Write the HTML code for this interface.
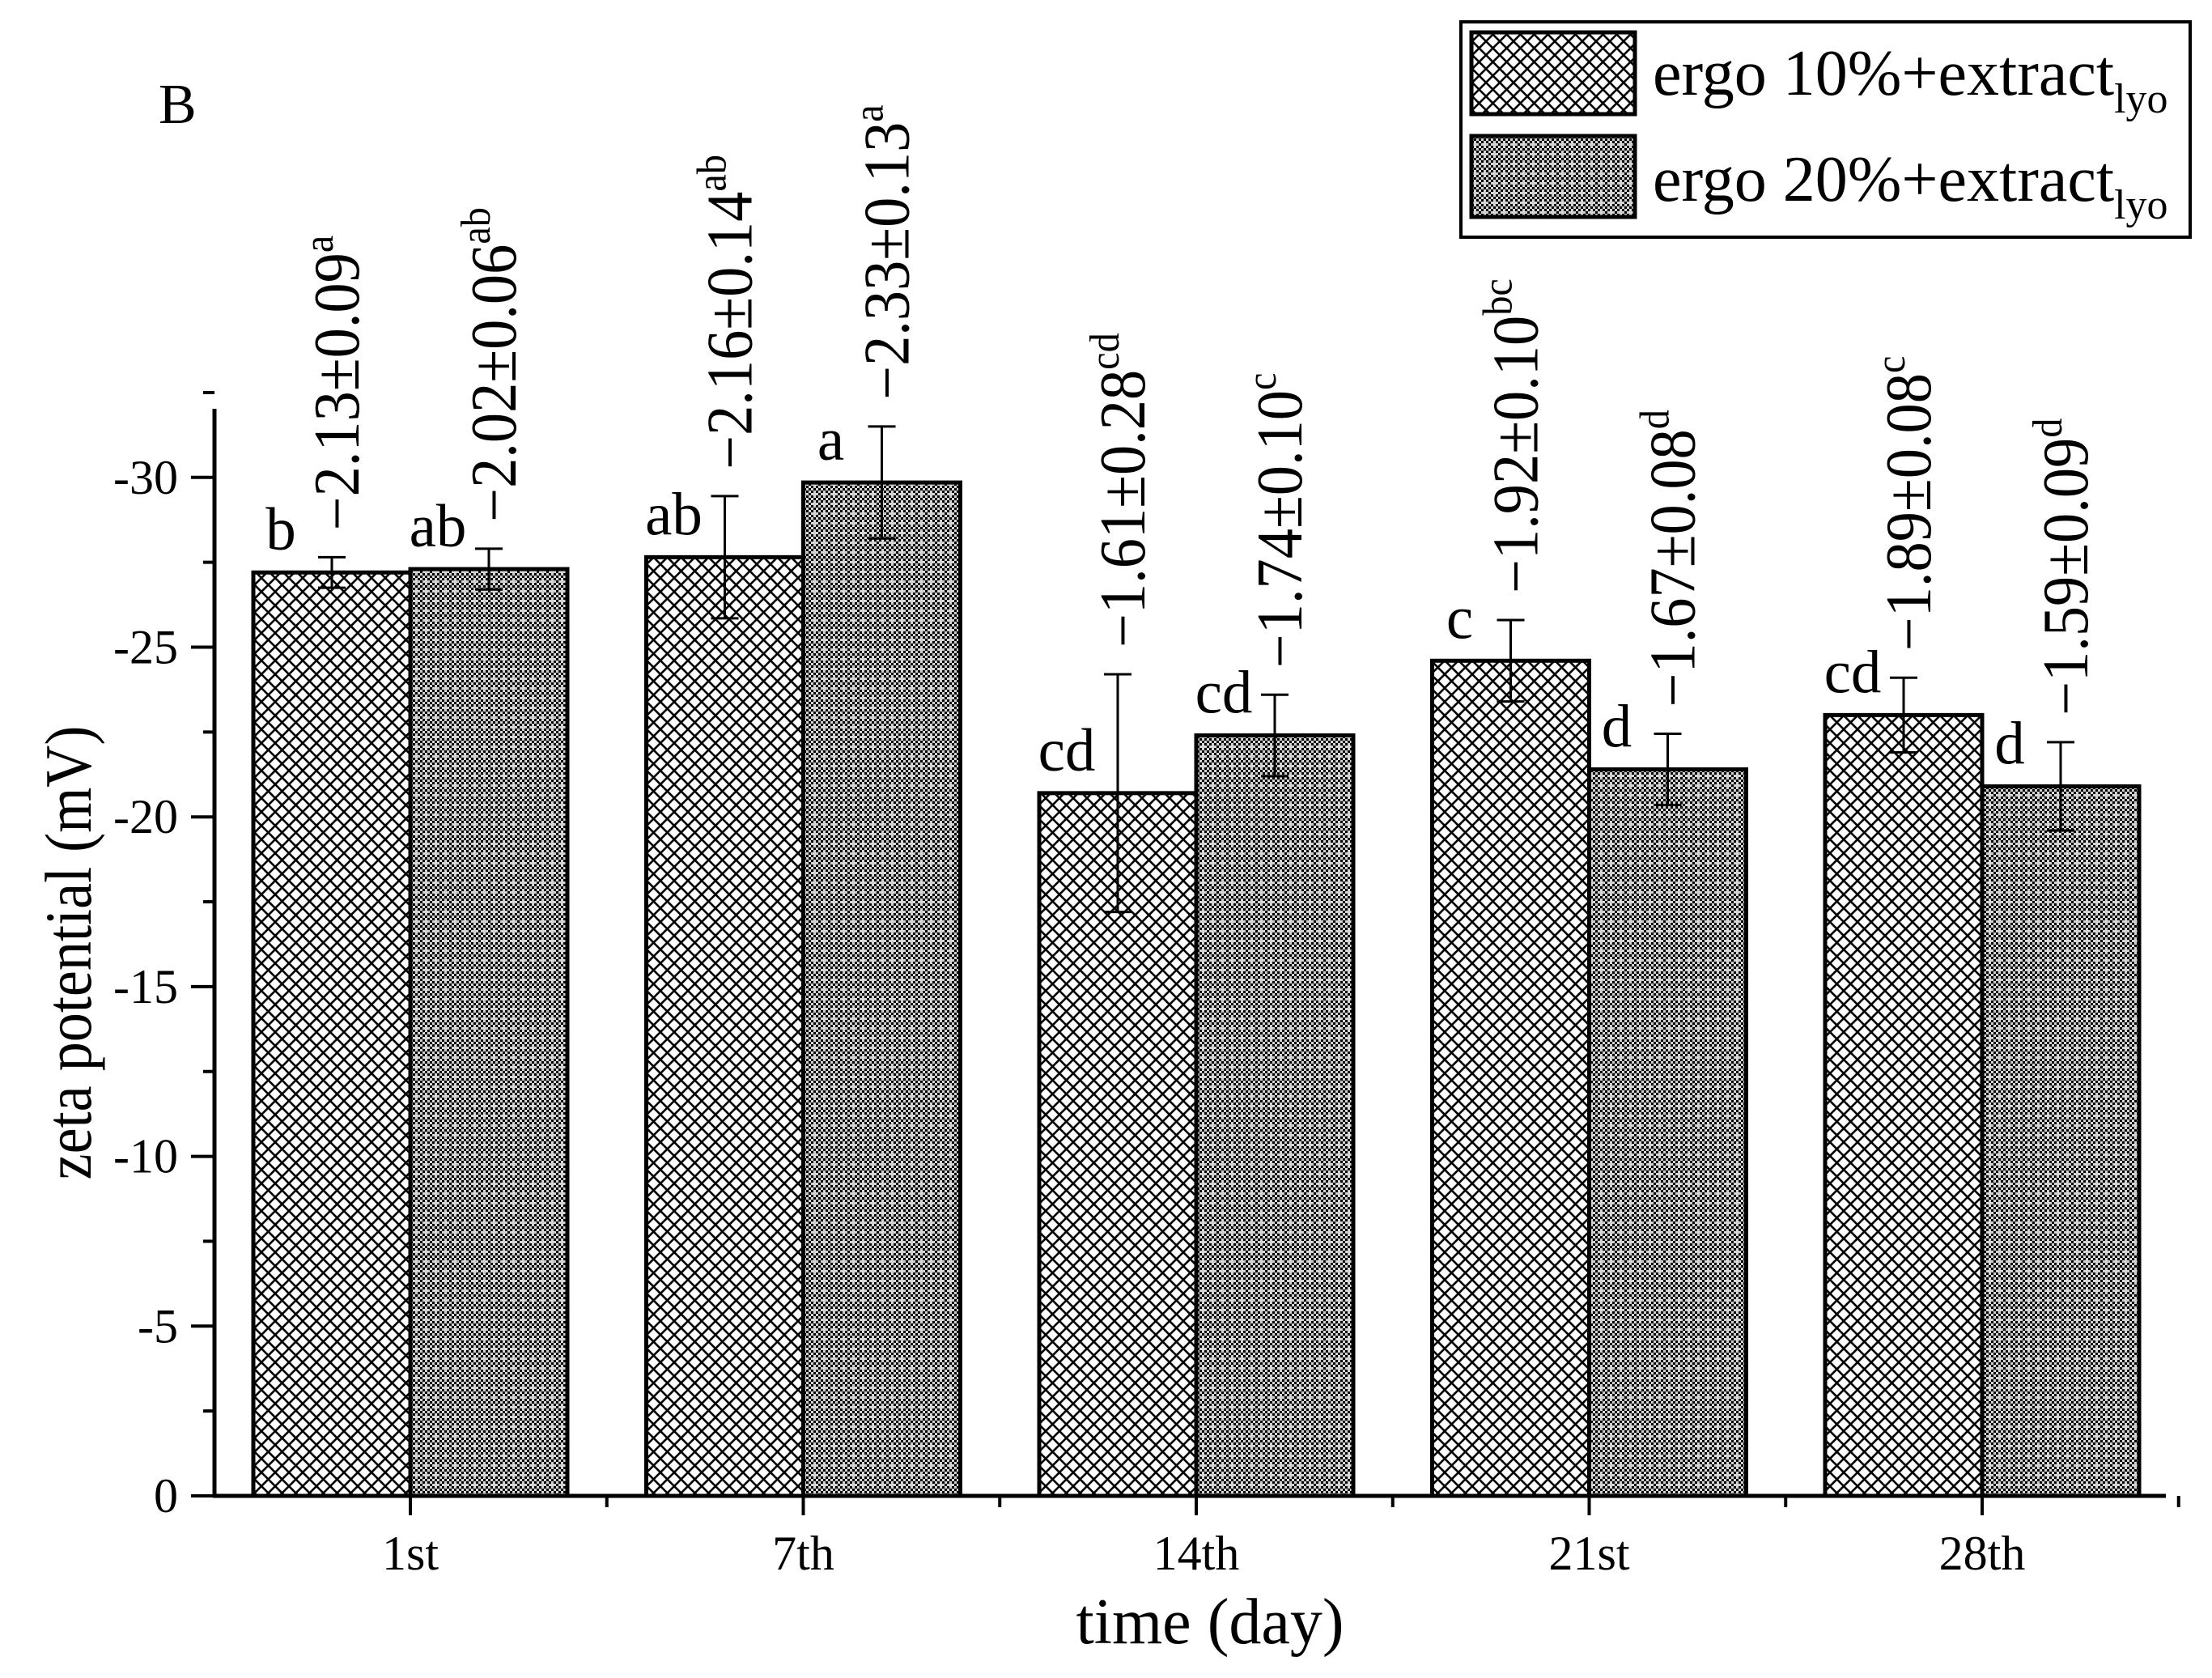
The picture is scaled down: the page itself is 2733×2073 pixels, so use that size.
<!DOCTYPE html>
<html><head><meta charset="utf-8"><style>
html,body{margin:0;padding:0;background:#fff}
svg{display:block;font-family:"Liberation Serif",serif}
</style></head><body>
<svg id="chart" width="2733" height="2073" viewBox="0 0 2733 2073" xmlns="http://www.w3.org/2000/svg">
<defs>
<pattern id="hatch1" patternUnits="userSpaceOnUse" width="17" height="17">
<rect width="17" height="17" fill="#fff"/>
<path d="M0,0L17,17M17,0L0,17M-2,15L2,19M15,-2L19,2" stroke="#000" stroke-width="2.6"/>
</pattern>
<pattern id="hatch2" patternUnits="userSpaceOnUse" width="12" height="12">
<rect width="12" height="12" fill="#d4d4d4"/>
<rect x="0" y="0" width="3" height="3" fill="#000"/><rect x="6" y="0" width="3" height="3" fill="#000"/>
<rect x="3" y="3" width="3" height="3" fill="#000"/><rect x="9" y="3" width="3" height="3" fill="#000"/>
<rect x="0" y="6" width="3" height="3" fill="#000"/><rect x="6" y="6" width="3" height="3" fill="#000"/>
<rect x="3" y="9" width="3" height="3" fill="#000"/>
</pattern>
</defs>
<g id="plot"></g>
<text x="196" y="152" font-size="70">B</text>
<text transform="translate(112,1177) rotate(-90) scale(0.88,1)" text-anchor="middle" font-size="82">zeta potential (mV)</text>
<text x="1495" y="2030" text-anchor="middle" font-size="80">time (day)</text>
<g>
<rect x="1805" y="27" width="901" height="266" fill="#fff" stroke="#000" stroke-width="4"/>
<g>
<rect x="1818" y="40" width="202" height="101" fill="url(#hatch1)" stroke="#000" stroke-width="5"/>
<text x="2042" y="117" font-size="80">ergo 10%+extract<tspan font-size="52" dy="22">lyo</tspan></text>
</g>
<g>
<rect x="1818" y="168" width="202" height="100" fill="url(#hatch2)" stroke="#000" stroke-width="5"/>
<text x="2042" y="248" font-size="80">ergo 20%+extract<tspan font-size="52" dy="22">lyo</tspan></text>
</g>
</g>
</svg>
<script>
const categories = ["1st","7th","14th","21st","28th"];
const series1 = [-27.2,-27.65,-20.7,-24.6,-23.0];
const series2 = [-27.3,-29.85,-22.4,-21.4,-20.9];
const errors1 = [0.45,1.8,3.5,1.2,1.1];
const errors2 = [0.6,1.65,1.2,1.05,1.3];
const letters1 = ["b","ab","cd","c","cd"];
const letters2 = ["ab","a","cd","d","d"];
const notes1 = ["\u22122.13\u00b10.09","\u22122.16\u00b10.14","\u22121.61\u00b10.28","\u22121.92\u00b10.10","\u22121.89\u00b10.08"];
const sups1 = ["a","ab","cd","bc","c"];
const notes2 = ["\u22122.02\u00b10.06","\u22122.33\u00b10.13","\u22121.74\u00b10.10","\u22121.67\u00b10.08","\u22121.59\u00b10.09"];
const sups2 = ["ab","a","c","d","d"];
const yTicks = [0,-5,-10,-15,-20,-25,-30];
const yTickLabels = ["0","-5","-10","-15","-20","-25","-30"];

const NS="http://www.w3.org/2000/svg";
const g=document.getElementById('plot');
const X0=265, X1=2676, Y0=1848, YTOP=505, PER=209.7/5;
const y=v=>Y0-(-v)*PER;
const cx=i=>507+i*485.5;
const BW=194;
function mk(tag,attrs){const e=document.createElementNS(NS,tag);for(const k in attrs)e.setAttribute(k,attrs[k]);g.appendChild(e);return e;}

// bars
[[series1,errors1,letters1,notes1,sups1,'url(#hatch1)',-1,'ergo10'],[series2,errors2,letters2,notes2,sups2,'url(#hatch2)',0,'ergo20']].forEach(s=>{
  const [vals,errs,lets,notes,sups,fill,off,nm]=s;
  vals.forEach((v,i)=>{
    const left=cx(i)+off*BW, top=y(v);
    const r=mk('rect',{x:left,y:top,width:BW,height:Y0-top,fill:fill,stroke:'#000','stroke-width':5});
    
    
    const ex=left+BW/2, et=y(v-errs[i]), eb=y(v+errs[i]);
    const eg=mk('path',{d:`M${ex},${eb}V${et}M${ex-17},${et}H${ex+17}M${ex-17},${eb}H${ex+17}`,stroke:'#000','stroke-width':3,fill:'none'});
    
    
    const lt=mk('text',{x:left+34,y:top-28,'text-anchor':'middle','font-size':75});
    lt.textContent=lets[i];
    
    
    const nt=mk('text',{transform:`translate(${ex+33},${et-33}) rotate(-90) scale(0.93,1)`,'font-size':80});
    nt.textContent=notes[i];
    const sp=document.createElementNS(NS,'tspan');
    sp.setAttribute('font-size','52');sp.setAttribute('dy','-32');sp.textContent=sups[i];
    nt.appendChild(sp);
    
    
  });
});

// axes
const ya=mk('line',{x1:X0,y1:YTOP,x2:X0,y2:Y0+2,stroke:'#000','stroke-width':5});


const xa=mk('line',{x1:X0-2,y1:Y0,x2:X1,y2:Y0,stroke:'#000','stroke-width':5});


yTicks.forEach((t,i)=>{
  const tk=mk('line',{x1:X0-29,y1:y(t),x2:X0,y2:y(t),stroke:'#000','stroke-width':4});
  
  
  const mn=mk('line',{x1:X0-14,y1:y(t-2.5),x2:X0,y2:y(t-2.5),stroke:'#000','stroke-width':4});
  
  
  const tl=mk('text',{x:X0-45,y:y(t)+20,'text-anchor':'end','font-size':60});
  tl.textContent=yTickLabels[i];
  
  
});
categories.forEach((c,i)=>{
  const tk=mk('line',{x1:cx(i),y1:Y0,x2:cx(i),y2:Y0+24,stroke:'#000','stroke-width':4});
  
  
  const mn=mk('line',{x1:cx(i)+242.75,y1:Y0,x2:cx(i)+242.75,y2:Y0+14,stroke:'#000','stroke-width':4});
  
  
  const tl=mk('text',{x:cx(i),y:1939,'text-anchor':'middle','font-size':60});
  tl.textContent=c;
  
  
});
</script>
</body></html>
